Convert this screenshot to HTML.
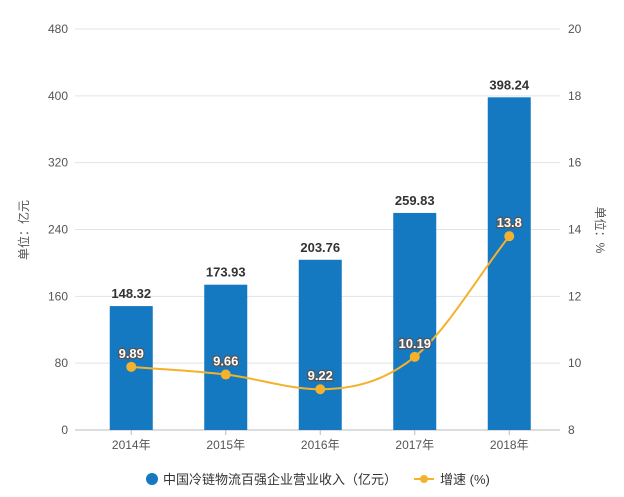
<!DOCTYPE html>
<html><head><meta charset="utf-8"><style>
body{margin:0;background:#fff;width:624px;height:497px;overflow:hidden;font-family:"Liberation Sans","Noto Sans CJK SC",sans-serif}
</style></head><body>
<svg id="chart" width="624" height="497" style="position:absolute;left:0;top:0">
<g id="grid"></g>
<g id="bars"></g>
<g id="line"></g>
<g id="labels"></g>
<text x="28" y="230" transform="rotate(-90 28 230)" text-anchor="middle" font-size="12" fill="#555">单位：亿元</text>
<text x="596" y="230" transform="rotate(90 596 230)" text-anchor="middle" font-size="12" fill="#555">单位：%</text>
<g>
<g><circle cx="152" cy="479" r="6" fill="#1479c1"/><text x="163" y="484" font-size="13" fill="#333">中国冷链物流百强企业营业收入（亿元）</text></g>
<g><line x1="414" y1="479" x2="434" y2="479" stroke="#f5b12c" stroke-width="2"/><circle cx="424" cy="479" r="4" fill="#f5b12c"/><text x="440" y="484" font-size="13" fill="#333">增速 (%)</text></g>
</g>
</svg>
<script>
const categories=["2014年","2015年","2016年","2017年","2018年"];
const revenue=[148.32,173.93,203.76,259.83,398.24];
const growth=[9.89,9.66,9.22,10.19,13.8];
const leftTicks=[0,80,160,240,320,400,480];
const rightTicks=[8,10,12,14,16,18,20];
const NS="http://www.w3.org/2000/svg";
const x0=84,band=94.5,y0=430,yTop=29;
const xc=i=>x0+band*(i+0.5);
const yL=v=>y0-(v/480)*(y0-yTop);
const yR=v=>y0-((v-8)/12)*(y0-yTop);
function mk(tag,attrs,parent){const e=document.createElementNS(NS,tag);for(const k in attrs)e.setAttribute(k,attrs[k]);parent.appendChild(e);return e;}
const grid=document.getElementById('grid'),bars=document.getElementById('bars'),line=document.getElementById('line'),labels=document.getElementById('labels');
leftTicks.forEach((t,i)=>{
 const y=yL(t);
 const l=mk('line',{x1:75,x2:560,y1:y,y2:y,stroke:i==0?'#bbb':'#e3e3e3','stroke-width':1},grid);
 
 
 const tx=mk('text',{x:68,y:y+4,'text-anchor':'end','font-size':12,fill:'#555'},grid);tx.textContent=t;
 
 
});
rightTicks.forEach(t=>{
 const tx=mk('text',{x:568,y:yR(t)+4,'font-size':12,fill:'#555'},grid);tx.textContent=t;
 
 
});
categories.forEach((c,i)=>{
 const tk=mk('line',{x1:xc(i),x2:xc(i),y1:y0,y2:y0+5,stroke:'#bbb'},grid);
 
 
 const tx=mk('text',{x:xc(i),y:y0+19,'text-anchor':'middle','font-size':12,fill:'#555'},grid);tx.textContent=c;
 
 
 const r=mk('rect',{x:xc(i)-21.5,y:yL(revenue[i]),width:43,height:y0-yL(revenue[i]),fill:'#1479c1'},bars);
 
 
 const bl=mk('text',{x:xc(i),y:yL(revenue[i])-8,'text-anchor':'middle','font-size':13,'font-weight':'bold',fill:'#333'},labels);bl.textContent=revenue[i];
 
 
});
// monotone-ish smooth path
const pts=growth.map((g,i)=>[xc(i),yR(g)]);
let d='M'+pts[0][0]+','+pts[0][1];
const n=pts.length,m=[];
for(let i=0;i<n;i++){
 if(i==0)m.push((pts[1][1]-pts[0][1])/(pts[1][0]-pts[0][0]));
 else if(i==n-1)m.push((pts[i][1]-pts[i-1][1])/(pts[i][0]-pts[i-1][0]));
 else{const a=(pts[i][1]-pts[i-1][1])/(pts[i][0]-pts[i-1][0]),b=(pts[i+1][1]-pts[i][1])/(pts[i+1][0]-pts[i][0]);m.push(a*b<=0?0:(a+b)/2);}
}
for(let i=0;i<n-1;i++){const h=(pts[i+1][0]-pts[i][0])/3;
 d+=` C${pts[i][0]+h},${pts[i][1]+m[i]*h} ${pts[i+1][0]-h},${pts[i+1][1]-m[i+1]*h} ${pts[i+1][0]},${pts[i+1][1]}`;}
const p=mk('path',{d:d,fill:'none',stroke:'#f5b12c','stroke-width':2},line);


pts.forEach((q,i)=>{
 const c=mk('circle',{cx:q[0],cy:q[1],r:5,fill:'#f5b12c'},line);
 
 
 const t=mk('text',{x:q[0],y:q[1]-9,'text-anchor':'middle','font-size':13,'font-weight':'bold',fill:'#fff',stroke:'#555','stroke-width':2.5,'paint-order':'stroke'},labels);t.textContent=growth[i];
 
 
});
</script>
</body></html>
